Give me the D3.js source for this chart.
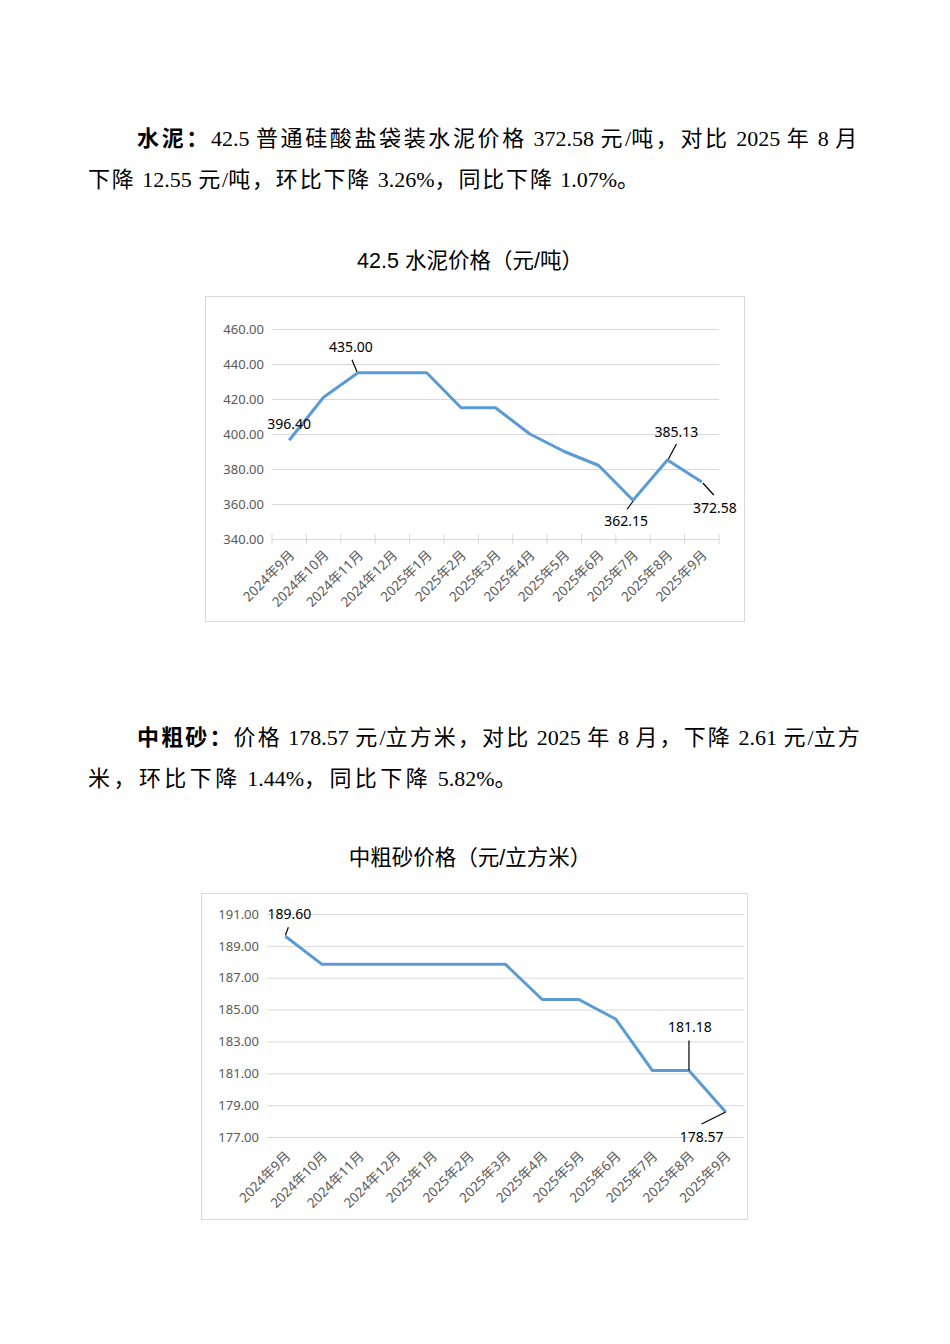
<!DOCTYPE html>
<html>
<head>
<meta charset="utf-8">
<script src="https://cdn.jsdelivr.net/npm/d3@7"></script>
<style>
  body { margin: 0; background: #fff; }
  svg { display: block; }
</style>
</head>
<body>
<div id="page"></div>
<script>
// months on the x axis (same for both charts)
var months = ["2024年9月", "2024年10月", "2024年11月", "2024年12月", "2025年1月", "2025年2月",
  "2025年3月", "2025年4月", "2025年5月", "2025年6月", "2025年7月", "2025年8月", "2025年9月"];

// 42.5 cement price (yuan/ton)
var cementPrices = [396.40, 421, 435.00, 435, 435, 415, 415, 400, 390, 382, 362.15, 385.13, 372.58];
var cementTicks = [340, 360, 380, 400, 420, 440, 460];

// medium/coarse sand price (yuan/m3)
var sandPrices = [189.60, 187.84, 187.84, 187.84, 187.84, 187.84, 187.84, 185.63, 185.63, 184.41, 181.18, 181.18, 178.57];
var sandTicks = [177, 179, 181, 183, 185, 187, 189, 191];

var serif = "'Liberation Serif', 'Times New Roman', 'Noto Sans CJK SC', serif";
var sans = "'Liberation Sans', Arial, 'Noto Sans CJK SC', sans-serif";
var chartFont = "'Noto Sans', 'Noto Sans CJK SC', sans-serif";

var svg = d3.select("#page").append("svg")
  .attr("width", 950)
  .attr("height", 1344);

var cjk = /[\u3000-\u303f\u4e00-\u9fff\uff00-\uffef]+|[^\u3000-\u303f\u4e00-\u9fff\uff00-\uffef]+/g;
var isCjk = /[\u3000-\u303f\u4e00-\u9fff\uff00-\uffef]/;

// paragraph line: bold lead word + rest, CJK runs spread out to fill the width
function para(x, y, bold, rest, width) {
  var t = svg.append("text")
    .attr("x", x).attr("y", y)
    .attr("font-family", serif)
    .attr("font-size", 22)
    .attr("word-spacing", 1)
    .attr("fill", "#000");
  var cjkSpans = [];
  var count = 0;
  [[bold || "", "bold"], [rest, "normal"]].forEach(function(part) {
    (part[0].match(cjk) || []).forEach(function(run) {
      var s = t.append("tspan").attr("font-weight", part[1]).text(run);
      if (isCjk.test(run)) { cjkSpans.push(s); count += run.length; }
    });
  });
  var extra = (width - t.node().getComputedTextLength()) / count;
  cjkSpans.forEach(function(s) { s.attr("letter-spacing", Math.max(0, extra)); });
}

para(137, 146, "水泥：", "42.5 普通硅酸盐袋装水泥价格 372.58 元/吨，对比 2025 年 8 月", 723);
para(88, 187, null, "下降 12.55 元/吨，环比下降 3.26%，同比下降 1.07%。", 553);
para(137, 745, "中粗砂：", "价格 178.57 元/立方米，对比 2025 年 8 月，下降 2.61 元/立方", 725);
para(88, 786, null, "米，环比下降 1.44%，同比下降 5.82%。", 432);

function drawChart(opt) {
  svg.append("text")
    .attr("x", 470).attr("y", opt.titleY)
    .attr("text-anchor", "middle")
    .attr("font-family", sans)
    .attr("font-size", 21.5)
    .attr("fill", "#000")
    .text(opt.title);

  // chart frame
  svg.append("rect")
    .attr("x", opt.frame[0] + 0.5).attr("y", opt.frame[1] + 0.5)
    .attr("width", opt.frame[2] - opt.frame[0]).attr("height", opt.frame[3] - opt.frame[1])
    .attr("fill", "#fff")
    .attr("stroke", "#d9d9d9");

  var x = d3.scaleBand().domain(months).range(opt.xRange);
  var y = d3.scaleLinear().domain(opt.yDomain).range(opt.yRange);
  var cx = function(i) { return x(months[i]) + x.bandwidth() / 2; };

  // gridlines + y labels
  var yAxis = svg.append("g")
    .attr("transform", "translate(" + opt.xRange[0] + ",0)")
    .call(d3.axisLeft(y).tickValues(opt.ticks)
      .tickSize(-(opt.xRange[1] - opt.xRange[0]))
      .tickPadding(8)
      .tickFormat(d3.format(".2f")));
  yAxis.select(".domain").remove();
  yAxis.selectAll(".tick line").attr("stroke", "#d9d9d9");
  yAxis.selectAll(".tick text")
    .attr("font-family", chartFont).attr("font-size", 13).attr("fill", "#595959");

  // x axis
  var axisY = opt.yRange[0];
  var xAxis = svg.append("g")
    .attr("transform", "translate(0," + axisY + ")")
    .call(d3.axisBottom(x).tickSize(0).tickFormat(""));
  xAxis.select(".domain").attr("stroke", "#d9d9d9");
  if (opt.crossTicks) {
    var bounds = months.map(function(m) { return x(m); }).concat([opt.xRange[1]]);
    svg.append("g").selectAll("line").data(bounds).join("line")
      .attr("x1", function(d) { return d; }).attr("x2", function(d) { return d; })
      .attr("y1", axisY - 5).attr("y2", axisY + 5)
      .attr("stroke", "#d9d9d9");
  } else {
    xAxis.select(".domain").remove();
  }

  svg.append("g").selectAll("text").data(months).join("text")
    .attr("transform", function(d, i) {
      return "translate(" + (cx(i) + 6) + "," + (axisY + opt.labelDy) + ") rotate(-45)";
    })
    .attr("text-anchor", "end")
    .attr("font-family", chartFont)
    .attr("font-size", 13.5)
    .attr("fill", "#595959")
    .text(function(d) { return d; });

  // series line
  var line = d3.line()
    .x(function(d, i) { return cx(i); })
    .y(function(d) { return y(d); });
  svg.append("path")
    .datum(opt.values)
    .attr("d", line)
    .attr("fill", "none")
    .attr("stroke", "#5b9bd5")
    .attr("stroke-width", 3)
    .attr("stroke-linejoin", "round");

  // data labels with leader lines
  opt.labels.forEach(function(l) {
    var px = cx(l.i), py = y(opt.values[l.i]);
    if (l.leader) {
      svg.append("line")
        .attr("x1", px + l.leader[0]).attr("y1", py + l.leader[1])
        .attr("x2", px + l.leader[2]).attr("y2", py + l.leader[3])
        .attr("stroke", "#000").attr("stroke-width", 1.2);
    }
    svg.append("text")
      .attr("x", px + l.dx).attr("y", py + l.dy)
      .attr("text-anchor", "middle")
      .attr("font-family", chartFont)
      .attr("font-size", 14)
      .attr("fill", "#000")
      .text(opt.values[l.i].toFixed(2));
  });
}

drawChart({
  title: "42.5 水泥价格（元/吨）",
  titleY: 268,
  frame: [205, 296, 744, 621],
  xRange: [272, 719],
  yDomain: [340, 460],
  yRange: [539, 329],
  ticks: cementTicks,
  values: cementPrices,
  crossTicks: true,
  labelDy: 17,
  labels: [
    { i: 0, dx: 0, dy: -11 },
    { i: 2, dx: -7, dy: -21, leader: [-6, -13, -1, -1] },
    { i: 10, dx: -7, dy: 26, leader: [-6, 9, 0, 1] },
    { i: 11, dx: 9, dy: -23, leader: [9, -16, 1, -1] },
    { i: 12, dx: 13, dy: 31, leader: [1, 1, 12, 13] }
  ]
});

drawChart({
  title: "中粗砂价格（元/立方米）",
  titleY: 865,
  frame: [201, 893, 747, 1219],
  xRange: [267, 744],
  yDomain: [177, 191],
  yRange: [1137, 914],
  ticks: sandTicks,
  values: sandPrices,
  crossTicks: false,
  labelDy: 20,
  labels: [
    { i: 0, dx: 4, dy: -17, leader: [3, -9, 0, -1] },
    { i: 11, dx: 1, dy: -38, leader: [0, -30, 0, 0] },
    { i: 12, dx: -24, dy: 30, leader: [-24, 12, 0, 0] }
  ]
});
</script>
</body>
</html>
